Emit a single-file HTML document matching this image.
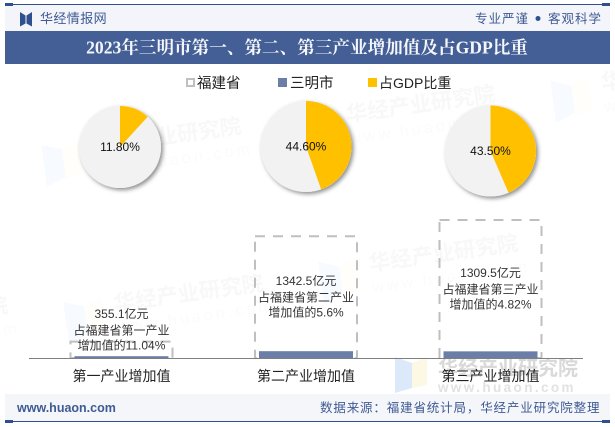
<!DOCTYPE html>
<html lang="zh">
<head>
<meta charset="utf-8">
<title>2023年三明市第一、第二、第三产业增加值及占GDP比重</title>
<style>
html,body{margin:0;padding:0;background:#fff}
svg{display:block}
text{font-family:"Liberation Sans","Noto Sans CJK SC",sans-serif}
</style>
</head>
<body>
<svg id="chart" xmlns="http://www.w3.org/2000/svg" width="615" height="427" viewBox="0 0 615 427">
  <defs>
    <filter id="pie-shadow" x="-20%" y="-20%" width="145%" height="145%">
      <feDropShadow dx="2" dy="2" stdDeviation="2" flood-color="#000" flood-opacity="0.45"/>
    </filter>
    <g id="wm" font-weight="700">
      <path d="M-50-16l20 7v28l-20 7z" fill="#f7fafe"/>
      <path d="M-30-9l18-7v34l-18 3z" fill="#fffefa"/>
      <text x="0" y="0" font-size="21.500" fill="#f8f8f8">华经产业研究院</text>
      <text x="0" y="22" font-size="16" font-weight="400" letter-spacing="3.200" fill="#fbfbfb">www.huaon.com</text>
    </g>
  </defs>
  <rect x="0" y="0" width="615" height="427" fill="#fff"/>
  <rect x="5" y="5" width="605" height="26" fill="#f3f5fa"/>
  <rect x="5" y="4" width="605" height="1" fill="#2f4f8f"/>
  <rect x="5" y="3" width="8" height="3" fill="#2f4f8f"/>
  <rect x="602" y="3" width="8" height="3" fill="#2f4f8f"/>
  <path d="M20 12l5.500 3.500v8l-5.500 3zM32 12l-5.500 3.500v8l5.500 3z" fill="#2f4f8f"/>
  <text x="40" y="23" font-size="13" letter-spacing="0.4" fill="#3f5a94">华经情报网</text>
  <text x="475" y="23" font-size="12.500" letter-spacing="1" fill="#3f5a94">专业严谨</text>
  <circle cx="538" cy="18.500" r="2.500" fill="#2f4f8f"/>
  <text x="548" y="23" font-size="12.500" letter-spacing="1" fill="#3f5a94">客观科学</text>
  <rect x="5" y="31" width="605" height="33" fill="#445f95"/>
  <text x="307" y="53.500" text-anchor="middle" font-size="17.600" font-weight="700" fill="#f4f6fb" style='font-family:"Liberation Serif","Noto Serif CJK SC",serif'>2023年三明市第一、第二、第三产业增加值及占GDP比重</text>

  <g>
    <use href="#wm" transform="translate(93 154) rotate(-8)"/>
    <use href="#wm" transform="translate(347 122) rotate(-8)"/>
    <use href="#wm" transform="translate(602 90) rotate(-8)"/>
    <use href="#wm" transform="translate(370 271) rotate(-8)"/>
    <use href="#wm" transform="translate(115 311) rotate(-8)"/>
    <use href="#wm" transform="translate(-140 333) rotate(-8)"/>
    <path d="M395 357l17 6v25l-17 5z" fill="#dce9fb"/>
    <path d="M412 363l15-6v28l-15 3z" fill="#fdf8e4"/>
    <text x="438" y="375" font-size="20" font-weight="700" fill="#d9d9d9">华经产业研究院</text>
    <text x="438" y="392" font-size="13.500" font-weight="700" letter-spacing="2.400" fill="#e2e2e2">www.huaon.com</text>
  </g>

  <g fill="#222">
    <g>
      <rect x="187" y="79" width="7" height="7" fill="none" stroke="#c0c0c0" stroke-width="2"/>
      <text x="197" y="88" font-size="14.500">福建省</text>
    </g>
    <g>
      <rect x="278" y="78" width="9" height="9" fill="#6a7ea8"/>
      <text x="290" y="88" font-size="14.500">三明市</text>
    </g>
    <g>
      <rect x="368" y="78" width="9" height="9" fill="#ffc000"/>
      <text x="379" y="88" font-size="14">占GDP比重</text>
    </g>
  </g>

  <g id="plot"></g>

  <rect x="5" y="394" width="605" height="27" fill="#f3f5fa" fill-opacity="0.92"/>
  <rect x="5" y="421" width="605" height="1" fill="#2f4f8f"/>
  <rect x="5" y="420" width="8" height="3" fill="#2f4f8f"/>
  <rect x="602" y="420" width="8" height="3" fill="#2f4f8f"/>
  <text x="17" y="412" font-size="12.500" font-weight="700" fill="#3f5a94">www.huaon.com</text>
  <text x="320" y="412" font-size="12.500" letter-spacing="0.850" fill="#3f5a94">数据来源：福建省统计局，华经产业研究院整理</text>
</svg>
<script>
const categories = ['第一产业增加值', '第二产业增加值', '第三产业增加值'];
const industryNames = ['第一产业', '第二产业', '第三产业'];
const fujianValues = [3216, 23973, 27168];
const sanmingValues = [355.1, 1342.5, 1309.5];
const provinceShares = ['11.04', '5.6', '4.82'];
const gdpShares = [11.8, 44.6, 43.5];

const svgNS = 'http://www.w3.org/2000/svg';
const plot = document.getElementById('plot');
const axisLeft = 29, axisRight = 583, baseline = 358;
const bandLeft = 29.25, bandWidth = 184.5;
const yPerUnit = 138 / 27168;
const pieOffsetX = [-1.5, 0, 0];
const pieCenterY = [147, 146.5, 151];
const pieRadius = [41, 45.5, 45.5];

function xCenter(i) { return bandLeft + bandWidth * (i + 0.5); }
function yScale(v) { return baseline - v * yPerUnit; }
function make(tag) { return document.createElementNS(svgNS, tag); }

function sectorPath(cx, cy, r, pct) {
  const angle = pct / 100 * Math.PI * 2;
  const ex = cx + r * Math.sin(angle);
  const ey = cy - r * Math.cos(angle);
  const large = pct > 50 ? 1 : 0;
  return 'M' + cx + ' ' + cy + 'L' + cx + ' ' + (cy - r) + 'A' + r + ' ' + r + ' 0 ' + large + ' 1 ' + ex + ' ' + ey + 'Z';
}

categories.forEach(function (name, i) {
  const bx = xCenter(i);
  const cx = bx + pieOffsetX[i];
  const cy = pieCenterY[i];
  const r = pieRadius[i];

  const pie = make('g');
  
  
  plot.appendChild(pie);

  const base = make('circle');
  
  
  base.setAttribute('cx', cx);
  base.setAttribute('cy', cy);
  base.setAttribute('r', r);
  base.setAttribute('fill', '#f2f2f2');
  base.setAttribute('filter', 'url(#pie-shadow)');
  pie.appendChild(base);

  const slice = make('path');
  
  
  slice.setAttribute('d', sectorPath(cx, cy, r, gdpShares[i]));
  slice.setAttribute('fill', '#ffc000');
  pie.appendChild(slice);

  const pct = make('text');
  
  
  pct.setAttribute('x', cx);
  pct.setAttribute('y', cy + 4);
  pct.setAttribute('text-anchor', 'middle');
  pct.setAttribute('font-size', '12');
  pct.setAttribute('fill', '#111');
  pct.textContent = gdpShares[i].toFixed(2) + '%';
  pie.appendChild(pct);

  const outlineTop = yScale(fujianValues[i]);
  const outline = make('rect');
  
  
  outline.setAttribute('x', bx - 51);
  outline.setAttribute('y', outlineTop);
  outline.setAttribute('width', 102);
  outline.setAttribute('height', baseline - outlineTop);
  outline.setAttribute('fill', 'none');
  outline.setAttribute('stroke', '#bfbfbf');
  outline.setAttribute('stroke-width', '2');
  outline.setAttribute('stroke-dasharray', '10 8');
  plot.appendChild(outline);

  const barTop = yScale(sanmingValues[i]);
  const bar = make('rect');
  
  
  bar.setAttribute('x', bx - 47);
  bar.setAttribute('y', barTop);
  bar.setAttribute('width', 94);
  bar.setAttribute('height', baseline - barTop);
  bar.setAttribute('fill', '#6a7ea8');
  plot.appendChild(bar);

  const labelMid = Math.min((outlineTop + baseline) / 2, 330);
  const lines = [
    sanmingValues[i].toFixed(1) + '亿元',
    '占福建省' + industryNames[i],
    '增加值的' + provinceShares[i] + '%'
  ];
  const offsets = [-12, 4.5, 19.5];
  lines.forEach(function (line, k) {
    const label = make('text');
    
    
    label.setAttribute('x', bx);
    label.setAttribute('y', labelMid + offsets[k]);
    label.setAttribute('text-anchor', 'middle');
    label.setAttribute('font-size', '12');
    label.setAttribute('fill', '#333');
    label.textContent = line;
    plot.appendChild(label);
  });

  const cat = make('text');
  
  
  cat.setAttribute('x', bx);
  cat.setAttribute('y', 381);
  cat.setAttribute('text-anchor', 'middle');
  cat.setAttribute('font-size', '14');
  cat.setAttribute('fill', '#222');
  cat.textContent = name;
  plot.appendChild(cat);
});

const axis = make('line');


axis.setAttribute('x1', axisLeft);
axis.setAttribute('x2', axisRight);
axis.setAttribute('y1', baseline + 0.5);
axis.setAttribute('y2', baseline + 0.5);
axis.setAttribute('stroke', '#7f7f7f');
axis.setAttribute('stroke-width', '1');
plot.appendChild(axis);
</script>
</body>
</html>
